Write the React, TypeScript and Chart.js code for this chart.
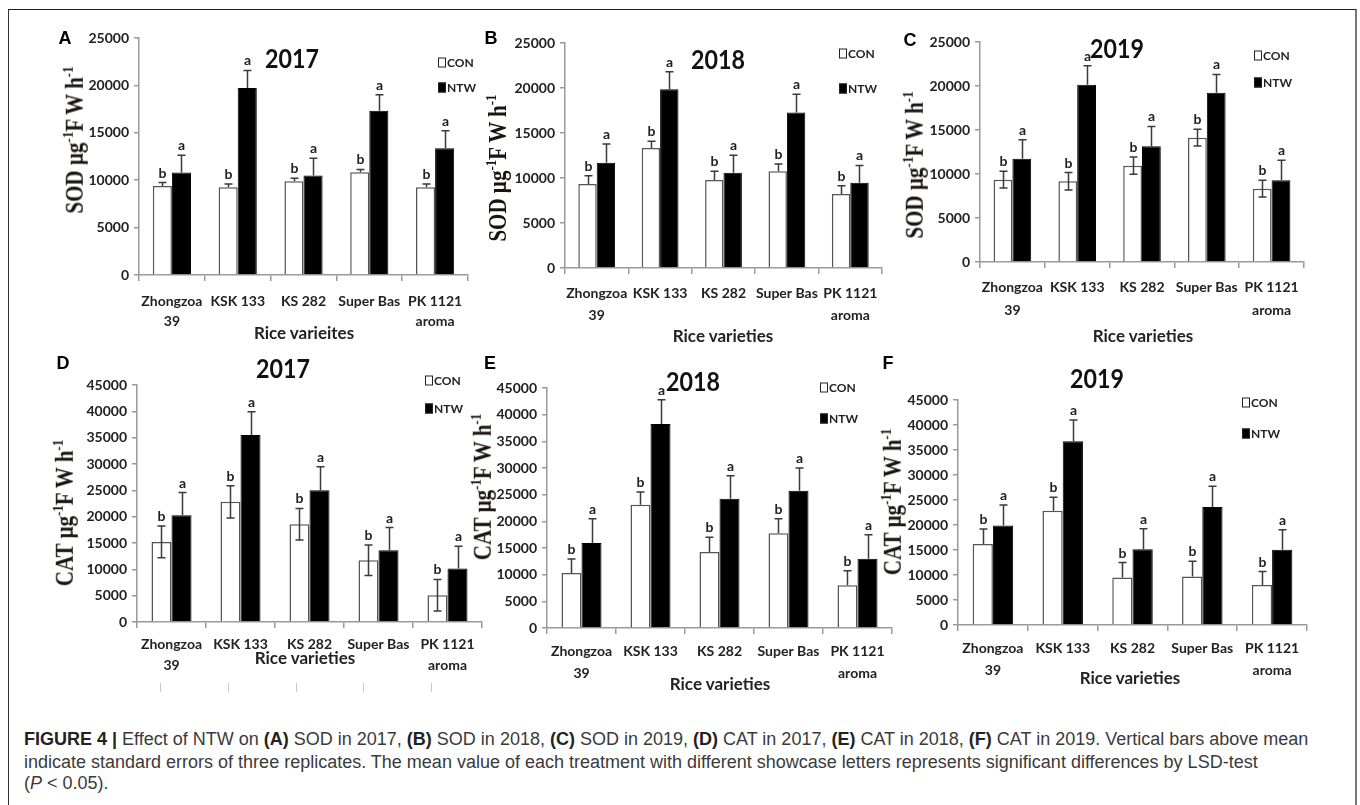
import React, { useEffect, useRef } from 'react';
import { Chart, registerables } from 'chart.js';
Chart.register(...registerables);

// ---------- data ----------
const categories: string[][] = [['Zhongzoa', '39'], ['KSK 133'], ['KS 282'], ['Super Bas'], ['PK 1121', 'aroma']];
const seriesNames = ['CON', 'NTW'];
const sodTicks = [0, 5000, 10000, 15000, 20000, 25000];
const catTicks = [0, 5000, 10000, 15000, 20000, 25000, 30000, 35000, 40000, 45000];

const sod2017Con = [9400, 9260, 9890, 10850, 9260];
const sod2017ConErr = [350, 350, 320, 280, 350];
const sod2017Ntw = [10810, 19720, 10490, 17320, 13380];
const sod2017NtwErr = [1830, 1860, 1830, 1690, 1830];

const sod2018Con = [9320, 13340, 9770, 10740, 8210];
const sod2018ConErr = [930, 740, 970, 820, 930];
const sod2018Ntw = [11700, 19870, 10590, 17270, 9470];
const sod2018NtwErr = [2080, 1930, 1930, 2040, 1930];

const sod2019Con = [9360, 9170, 10950, 14130, 8330];
const sod2019ConErr = [950, 1000, 980, 950, 950];
const sod2019Ntw = [11740, 20150, 13140, 19240, 9280];
const sod2019NtwErr = [2160, 2160, 2270, 2080, 2270];

const cat2017Con = [15210, 22810, 18570, 11720, 5070];
const cat2017ConErr = [3000, 3050, 3000, 2900, 3000];
const cat2017Ntw = [20280, 35490, 25030, 13620, 10140];
const cat2017NtwErr = [4300, 4430, 4440, 4310, 4250];

const cat2018Con = [10310, 23125, 14250, 17750, 8000];
const cat2018ConErr = [2630, 2375, 2750, 2750, 2750];
const cat2018Ntw = [15940, 38250, 24250, 25750, 13000];
const cat2018NtwErr = [4560, 4560, 4310, 4250, 4500];

const cat2019Con = [16180, 22860, 9490, 9690, 8020];
const cat2019ConErr = [3000, 2670, 3000, 3080, 2680];
const cat2019Ntw = [19920, 36760, 15170, 23600, 15040];
const cat2019NtwErr = [4080, 4220, 4080, 4140, 4010];

const conLetters = ['b', 'b', 'b', 'b', 'b'];
const ntwLetters = ['a', 'a', 'a', 'a', 'a'];

// ---------- styling ----------
const NARROW = 'Lato, "Open Sans", sans-serif';
const SERIF = '"Liberation Serif", "Times New Roman", serif';
const SANS = '"Liberation Sans", Arial, Helvetica, sans-serif';

type PanelSpec = {
  letter: string; year: string; metric: string;
  con: number[]; conErr: number[]; ntw: number[]; ntwErr: number[];
  ticks: number[];
  x0: number; x1: number; yTop: number; yBottom: number;
  labelPad: number; lineH: number; conDown: boolean;
  letterPos: [number, number]; titlePos: [number, number];
  legend: [number, number, number];
  yTitlePos: [number, number]; xTitle: string; xTitlePos: [number, number];
};

const panels: PanelSpec[] = [
  {
    letter: 'A', year: '2017', metric: 'SOD', con: sod2017Con, conErr: sod2017ConErr, ntw: sod2017Ntw, ntwErr: sod2017NtwErr,
    ticks: sodTicks, x0: 139, x1: 468, yTop: 38, yBottom: 275, labelPad: 10, lineH: 20, conDown: false,
    letterPos: [65, 38], titlePos: [292, 57], legend: [438, 62, 87], yTitlePos: [75, 140],
    xTitle: 'Rice varieites', xTitlePos: [304, 332],
  },
  {
    letter: 'B', year: '2018', metric: 'SOD', con: sod2018Con, conErr: sod2018ConErr, ntw: sod2018Ntw, ntwErr: sod2018NtwErr,
    ticks: sodTicks, x0: 565, x1: 882, yTop: 43, yBottom: 268, labelPad: 8, lineH: 22, conDown: false,
    letterPos: [491, 38], titlePos: [718, 58], legend: [839, 53, 88], yTitlePos: [498, 168],
    xTitle: 'Rice varieties', xTitlePos: [723, 335],
  },
  {
    letter: 'C', year: '2019', metric: 'SOD', con: sod2019Con, conErr: sod2019ConErr, ntw: sod2019Ntw, ntwErr: sod2019NtwErr,
    ticks: sodTicks, x0: 980, x1: 1304, yTop: 42, yBottom: 262, labelPad: 8, lineH: 23, conDown: true,
    letterPos: [910, 40], titlePos: [1117, 47], legend: [1254, 55, 82], yTitlePos: [915, 165],
    xTitle: 'Rice varieties', xTitlePos: [1143, 335],
  },
  {
    letter: 'D', year: '2017', metric: 'CAT', con: cat2017Con, conErr: cat2017ConErr, ntw: cat2017Ntw, ntwErr: cat2017NtwErr,
    ticks: catTicks, x0: 137, x1: 482, yTop: 385, yBottom: 622, labelPad: 6, lineH: 21, conDown: true,
    letterPos: [63, 363], titlePos: [283, 367], legend: [425, 380, 408], yTitlePos: [65, 513],
    xTitle: 'Rice varieties', xTitlePos: [305, 657],
  },
  {
    letter: 'E', year: '2018', metric: 'CAT', con: cat2018Con, conErr: cat2018ConErr, ntw: cat2018Ntw, ntwErr: cat2018NtwErr,
    ticks: catTicks, x0: 547, x1: 892, yTop: 388, yBottom: 628, labelPad: 6, lineH: 22, conDown: false,
    letterPos: [490, 363], titlePos: [693, 380], legend: [820, 387, 418], yTitlePos: [483, 487],
    xTitle: 'Rice varieties', xTitlePos: [720, 683],
  },
  {
    letter: 'F', year: '2019', metric: 'CAT', con: cat2019Con, conErr: cat2019ConErr, ntw: cat2019Ntw, ntwErr: cat2019NtwErr,
    ticks: catTicks, x0: 958, x1: 1307, yTop: 400, yBottom: 625, labelPad: 6, lineH: 22, conDown: false,
    letterPos: [888, 363], titlePos: [1097, 377], legend: [1242, 402, 433], yTitlePos: [893, 502],
    xTitle: 'Rice varieties', xTitlePos: [1130, 677],
  },
];

const AXIS_W = 75;
const AXIS_H = 60;
const PAD_T = 15;
const PAD_R = 8;

function Panel({ spec }: { spec: PanelSpec }) {
  const ref = useRef<HTMLCanvasElement>(null);
  const cx = spec.x0 - AXIS_W;
  const cy = spec.yTop - PAD_T;
  const cw = spec.x1 - cx + PAD_R;
  const ch = spec.yBottom - cy + AXIS_H;

  useEffect(() => {
    const canvas = ref.current;
    if (!canvas) return;
    const errPlugin = {
      id: 'errbars',
      afterDatasetsDraw(chart: any) {
        const ctx = chart.ctx;
        const ys = chart.scales.y;
        const sets: [number[], number[], string[], boolean][] = [
          [spec.con, spec.conErr, conLetters, true],
          [spec.ntw, spec.ntwErr, ntwLetters, false],
        ];
        sets.forEach(([vals, errs, letters, isCon], di) => {
          const meta = chart.getDatasetMeta(di);
          meta.data.forEach((el: any, i: number) => {
            const x = Math.round(el.x) + 0.5;
            const top = ys.getPixelForValue(vals[i] + errs[i]);
            const down = isCon && spec.conDown;
            const base = down ? ys.getPixelForValue(vals[i] - errs[i]) : ys.getPixelForValue(vals[i]);
            ctx.save();
            ctx.strokeStyle = '#3a3a3a';
            ctx.lineWidth = 1.5;
            ctx.beginPath();
            ctx.moveTo(x, base);
            ctx.lineTo(x, top);
            ctx.moveTo(x - 4, top);
            ctx.lineTo(x + 4, top);
            if (down) {
              ctx.moveTo(x - 4, base);
              ctx.lineTo(x + 4, base);
            }
            ctx.stroke();
            ctx.fillStyle = '#222';
            ctx.font = 'bold 14px ' + NARROW;
            ctx.textAlign = 'center';
            ctx.textBaseline = 'alphabetic';
            ctx.fillText(letters[i], x, top - 5);
            ctx.restore();
          });
        });
      },
    };

    const tickFont = { family: NARROW, size: 14, weight: 'bold' as const };
    const chart = new Chart(canvas, {
      type: 'bar',
      data: {
        labels: categories,
        datasets: [
          {
            label: seriesNames[0], data: spec.con, backgroundColor: '#ffffff', borderColor: '#555555',
            borderWidth: 1.5, categoryPercentage: 0.58, barPercentage: 1,
          },
          {
            label: seriesNames[1], data: spec.ntw, backgroundColor: '#000000', borderColor: '#000000',
            borderWidth: 1, categoryPercentage: 0.58, barPercentage: 1,
          },
        ],
      },
      options: {
        responsive: false,
        animation: false,
        events: [],
        layout: { padding: { left: 0, top: PAD_T, right: PAD_R, bottom: 0 } },
        plugins: { legend: { display: false }, tooltip: { enabled: false }, title: { display: false } },
        scales: {
          x: {
            grid: { display: true, drawOnChartArea: false, drawTicks: true, tickLength: 6, color: '#999999', lineWidth: 1.5, offset: true },
            border: { display: true, color: '#999999', width: 1.5 },
            ticks: {
              font: { ...tickFont, lineHeight: spec.lineH + 'px' } as any,
              color: '#222222', padding: spec.labelPad, maxRotation: 0, minRotation: 0, autoSkip: false,
            },
            afterFit: (s: any) => { s.height = AXIS_H; },
          },
          y: {
            min: 0,
            max: spec.ticks[spec.ticks.length - 1],
            afterBuildTicks: (s: any) => { s.ticks = spec.ticks.map((v) => ({ value: v })); },
            grid: { display: true, drawOnChartArea: false, drawTicks: true, tickLength: 5, color: '#999999', lineWidth: 1.5 },
            border: { display: true, color: '#999999', width: 1.5 },
            ticks: { font: tickFont, color: '#222222', padding: 5, callback: (v: any) => String(v) },
            afterFit: (s: any) => { s.width = AXIS_W; },
          },
        },
      },
      plugins: [errPlugin],
    });
    return () => chart.destroy();
  }, []);

  const txt = (x: number, y: number, content: React.ReactNode, style: React.CSSProperties, extra = '') => (
    <div style={{ position: 'absolute', left: x, top: y, transform: 'translate(-50%, -50%)' + extra, whiteSpace: 'nowrap', lineHeight: 1, ...style }}>
      {content}
    </div>
  );
  const supStyle: React.CSSProperties = { fontSize: 13, position: 'relative', top: -8, lineHeight: 0 };

  return (
    <>
      <canvas ref={ref} width={cw} height={ch} style={{ position: 'absolute', left: cx, top: cy, width: cw, height: ch }} />
      {txt(spec.letterPos[0], spec.letterPos[1], spec.letter, { font: `bold 18px ${SANS}`, color: '#000' })}
      {txt(spec.titlePos[0], spec.titlePos[1], spec.year, { font: `bold 27px ${NARROW}`, color: '#111' }, ' scaleX(0.86)')}
      {txt(spec.xTitlePos[0], spec.xTitlePos[1], spec.xTitle, { font: `bold 17px ${NARROW}`, color: '#222' })}
      <div style={{ position: 'absolute', left: spec.yTitlePos[0], top: spec.yTitlePos[1], transform: 'translate(-50%, -50%) rotate(-90deg) scaleY(1.2)', whiteSpace: 'nowrap', font: `bold 21px ${SERIF}`, color: '#1a1410', lineHeight: 1 }}>
        {spec.metric} µg<span style={supStyle}>-1</span>F W h<span style={supStyle}>-1</span>
      </div>
      {[0, 1].map((k) => (
        <div key={k} style={{ position: 'absolute', left: spec.legend[0], top: spec.legend[1 + k], transform: 'translateY(-50%)', display: 'flex', alignItems: 'center', whiteSpace: 'nowrap' }}>
          <div style={{ width: 6, height: 8, border: '1px solid #222', background: k === 0 ? '#fff' : '#000', marginRight: 1 }} />
          <span style={{ font: `bold 12px ${NARROW}`, color: '#222' }}>{seriesNames[k]}</span>
        </div>
      ))}
    </>
  );
}

const artifactMarks = [160, 228, 296, 363, 431];

export default function App() {
  const b: React.CSSProperties = { fontWeight: 'bold', color: '#222' };
  const lineStyle = (top: number): React.CSSProperties => ({
    position: 'absolute', left: 24, top, whiteSpace: 'nowrap', font: `18px ${SANS}`, color: '#3a3a3a', lineHeight: '20px',
  });
  return (
    <div style={{ position: 'fixed', left: 0, top: 0, width: 1360, height: 805, background: '#fff', overflow: 'hidden' }}>
      <div style={{ position: 'absolute', left: 8, top: 9, width: 1346, height: 820, borderLeft: '1.5px solid #333', borderTop: '1.5px solid #222', borderRight: '2px solid #777' }} />
      {panels.map((p) => <Panel key={p.letter} spec={p} />)}
      {artifactMarks.map((x) => (
        <div key={x} style={{ position: 'absolute', left: x, top: 683, width: 1, height: 9, background: '#c8c8c8' }} />
      ))}
      <div style={lineStyle(729)}>
        <span style={b}>FIGURE 4 |</span> Effect of NTW on <span style={b}>(A)</span> SOD in 2017, <span style={b}>(B)</span> SOD in 2018, <span style={b}>(C)</span> SOD in 2019, <span style={b}>(D)</span> CAT in 2017, <span style={b}>(E)</span> CAT in 2018, <span style={b}>(F)</span> CAT in 2019. Vertical bars above mean
      </div>
      <div style={lineStyle(752)}>
        indicate standard errors of three replicates. The mean value of each treatment with different showcase letters represents significant differences by LSD-test
      </div>
      <div style={lineStyle(773)}>
        (<i>P</i> &lt; 0.05).
      </div>
    </div>
  );
}
